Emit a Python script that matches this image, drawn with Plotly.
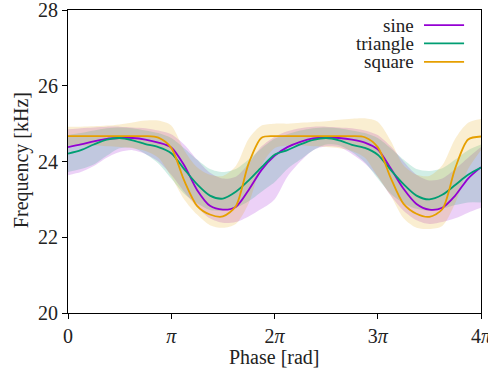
import numpy as np
import plotly.graph_objects as go

# phase in units of pi
phase_pi = [0, 0.125, 0.25, 0.375, 0.5, 0.625, 0.75, 0.875, 1.0, 1.125, 1.25, 1.375, 1.5, 1.625, 1.75, 1.875,
            2.0, 2.125, 2.25, 2.375, 2.5, 2.625, 2.75, 2.875, 3.0, 3.125, 3.25, 3.375, 3.5, 3.625, 3.75, 3.875, 4.0]

sine_mean = [24.38, 24.45, 24.53, 24.60, 24.62, 24.62, 24.58, 24.50, 24.37, 23.90, 23.25, 22.83, 22.73, 22.80, 23.25, 23.78,
             24.15, 24.38, 24.52, 24.61, 24.63, 24.62, 24.58, 24.50, 24.32, 23.82, 23.28, 22.88, 22.73, 22.78, 23.10, 23.55, 23.85]
sine_upper = [24.85, 24.88, 24.90, 24.92, 24.92, 24.90, 24.88, 24.82, 24.72, 24.45, 24.05, 23.70, 23.55, 23.60, 23.95, 24.40,
              24.65, 24.80, 24.88, 24.92, 24.92, 24.90, 24.88, 24.82, 24.70, 24.40, 24.00, 23.65, 23.50, 23.55, 23.80, 24.10, 24.38]
sine_lower = [23.64, 23.72, 23.88, 24.10, 24.25, 24.30, 24.20, 24.00, 23.65, 23.20, 22.80, 22.50, 22.38, 22.40, 22.55, 22.75,
              23.00, 23.60, 24.00, 24.30, 24.40, 24.38, 24.20, 23.95, 23.60, 23.10, 22.70, 22.45, 22.35, 22.40, 22.50, 22.65, 22.78]

triangle_mean = [24.21, 24.30, 24.45, 24.58, 24.62, 24.56, 24.46, 24.38, 24.22, 23.80, 23.40, 23.10, 23.02, 23.20, 23.50, 23.85,
                 24.18, 24.30, 24.45, 24.57, 24.62, 24.56, 24.44, 24.36, 24.18, 23.78, 23.40, 23.10, 23.00, 23.12, 23.38, 23.65, 23.84]
triangle_upper = [24.70, 24.75, 24.82, 24.88, 24.90, 24.88, 24.82, 24.75, 24.62, 24.35, 24.05, 23.80, 23.72, 23.80, 24.05, 24.35,
                  24.60, 24.72, 24.82, 24.88, 24.90, 24.88, 24.82, 24.75, 24.62, 24.35, 24.05, 23.80, 23.75, 23.82, 24.05, 24.30, 24.45]
triangle_lower = [23.72, 23.80, 23.92, 24.15, 24.35, 24.36, 24.20, 23.95, 23.55, 23.15, 22.90, 22.72, 22.70, 22.78, 22.95, 23.20,
                  23.45, 23.80, 24.05, 24.30, 24.45, 24.43, 24.25, 23.98, 23.55, 23.15, 22.90, 22.75, 22.70, 22.75, 22.85, 22.92, 22.92]

square_mean = [24.67, 24.67, 24.67, 24.67, 24.67, 24.67, 24.67, 24.63, 24.36, 23.50, 22.83, 22.60, 22.55, 22.82, 23.95, 24.63,
               24.67, 24.67, 24.67, 24.67, 24.67, 24.67, 24.67, 24.64, 24.38, 23.57, 22.88, 22.62, 22.54, 22.74, 23.82, 24.58, 24.66]
square_upper = [24.92, 24.92, 24.93, 24.95, 24.98, 25.03, 25.08, 25.08, 24.95, 24.30, 23.85, 23.65, 23.62, 23.88, 24.60, 24.95,
                25.00, 25.00, 25.02, 25.04, 25.06, 25.10, 25.13, 25.14, 25.05, 24.55, 23.90, 23.65, 23.62, 23.90, 24.60, 25.02, 25.12]
square_lower = [24.42, 24.42, 24.42, 24.40, 24.38, 24.35, 24.28, 24.10, 23.60, 23.00, 22.60, 22.32, 22.25, 22.35, 22.90, 23.90,
                24.35, 24.42, 24.42, 24.40, 24.38, 24.35, 24.28, 24.10, 23.60, 23.10, 22.50, 22.25, 22.22, 22.30, 22.90, 23.80, 24.30]

series = [
    ("sine", sine_mean, sine_upper, sine_lower, (148, 0, 211)),
    ("triangle", triangle_mean, triangle_upper, triangle_lower, (0, 158, 115)),
    ("square", square_mean, square_upper, square_lower, (230, 159, 0)),
]

x_tick_pi = [0, 1, 2, 3, 4]
x_tick_text = ["0", "<i>π</i>", "2<i>π</i>", "3<i>π</i>", "4<i>π</i>"]
y_ticks = [20, 22, 24, 26, 28]
x_title = "Phase [rad]"
y_title = "Frequency [kHz]"

x = np.array(phase_pi) * np.pi
FONT = "Liberation Serif"
TXT = "#222222"

fig = go.Figure()
for name, m, up, lo, c in series:
    fig.add_trace(go.Scatter(x=x, y=up, mode="lines", line=dict(width=0, shape="spline", smoothing=0.8),
                             showlegend=False, hoverinfo="skip"))
    fig.add_trace(go.Scatter(x=x, y=lo, mode="lines", line=dict(width=0, shape="spline", smoothing=0.8),
                             fill="tonexty", fillcolor=f"rgba({c[0]},{c[1]},{c[2]},0.18)",
                             showlegend=False, hoverinfo="skip"))
for name, m, up, lo, c in series:
    fig.add_trace(go.Scatter(x=x, y=m, mode="lines", name=name,
                             line=dict(color=f"rgb({c[0]},{c[1]},{c[2]})", width=1.8, shape="spline", smoothing=0.8),
                             showlegend=False))

# manual gnuplot-style legend (text then sample line)
leg_y = [0.950, 0.890, 0.829]
for (name, m, up, lo, c), yy in zip(series, leg_y):
    fig.add_annotation(x=0.840, y=yy, xref="paper", yref="paper", text=name, showarrow=False,
                       xanchor="right", yanchor="middle", font=dict(family=FONT, size=19, color=TXT),
                       borderpad=0)
    fig.add_shape(type="line", xref="paper", yref="paper", x0=0.862, x1=0.959, y0=yy, y1=yy,
                  line=dict(color=f"rgb({c[0]},{c[1]},{c[2]})", width=1.8))

# axis titles
fig.add_annotation(x=0.5, y=-0.1454, xref="paper", yref="paper", text=x_title, showarrow=False,
                   xanchor="center", yanchor="middle", font=dict(family=FONT, size=20, color=TXT))
fig.add_annotation(x=-0.111, y=0.505, xref="paper", yref="paper", text=y_title, showarrow=False,
                   textangle=-90, xanchor="center", yanchor="middle", font=dict(family=FONT, size=20, color=TXT))

axis_common = dict(showline=True, linecolor="black", linewidth=1.2, mirror=True, ticks="outside",
                   ticklen=5, tickcolor="black", showgrid=False, zeroline=False, layer="below traces",
                   automargin=False, ticklabeloverflow="allow",
                   tickfont=dict(family=FONT, size=20, color=TXT))
fig.update_xaxes(range=[0, 4 * np.pi], tickvals=[k * np.pi for k in x_tick_pi], ticktext=x_tick_text,
                 **axis_common)
fig.update_yaxes(range=[20, 28], tickvals=y_ticks, **axis_common)
fig.update_layout(width=488, height=372, margin=dict(l=68, r=7, t=10, b=59, autoexpand=False),
                  paper_bgcolor="white", plot_bgcolor="white")
# remove the default page-body margin so the figure sits at the window's top-left corner
fig.write_html("out.html", config={"displayModeBar": False},
               post_script="document.body.style.margin='0';")
